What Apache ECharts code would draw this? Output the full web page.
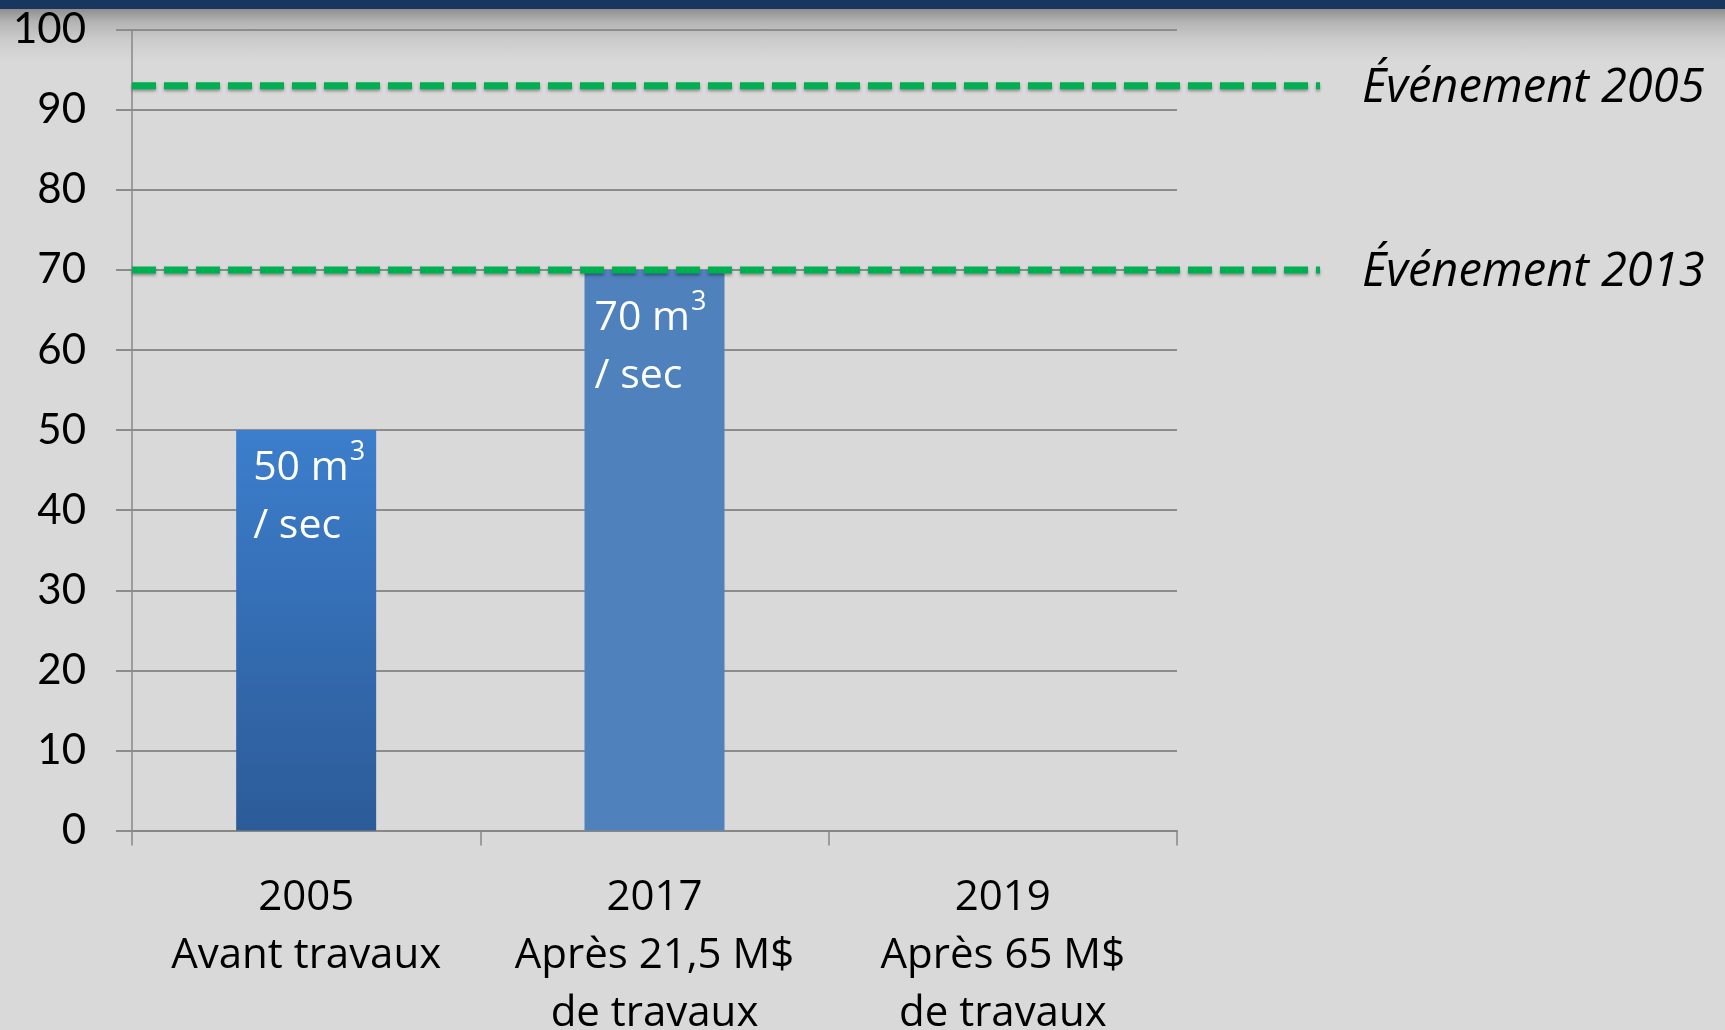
<!DOCTYPE html>
<html>
<head>
<meta charset="utf-8">
<script src="https://cdn.jsdelivr.net/npm/echarts@6/dist/echarts.min.js"></script>
<style>
  html, body { margin: 0; padding: 0; }
  body {
    width: 1725px; height: 1030px; overflow: hidden;
    background: linear-gradient(to bottom, #17375E 0px, #17375E 9px, #8f8f8f 9px, #b4b4b4 22px, #cccccc 40px, #d9d9d9 62px, #d9d9d9 100%);
  }
  #chart { width: 1725px; height: 1030px; }
</style>
</head>
<body>
<div id="chart"></div>
<script>
// ---- data ----
const categories = ['2005\nAvant travaux', '2017\nAprès 21,5 M$\nde travaux', '2019\nAprès 65 M$\nde travaux'];
const flowValues = [50, 70, null];
const eventNames = ['Événement 2005', 'Événement 2013'];
const eventValues = [93, 70];
const yTicks = [0, 10, 20, 30, 40, 50, 60, 70, 80, 90, 100];

const NUMFONT = 'Lato, "Open Sans", sans-serif';
const FONT = '"Open Sans", Lato, sans-serif';
const chart = echarts.init(document.getElementById('chart'), null, { renderer: 'canvas' });

const barColors = [
  new echarts.graphic.LinearGradient(0, 0, 0, 1, [
    { offset: 0, color: '#3C7ECC' },
    { offset: 1, color: '#2C5B98' }
  ]),
  '#4F81BD',
  '#4F81BD'
];
const labelPads = [[9, 0, 0, 17], [19, 0, 0, 10], [0, 0, 0, 0]];

const gridTop = 29.7, gridBottom = 199.5;

const option = {
  backgroundColor: 'transparent',
  animation: false,
  grid: [
    { left: 132, right: 548, top: gridTop, bottom: gridBottom, containLabel: false, outerBoundsMode: 'none' },
    { left: 132, right: 405, top: gridTop, bottom: gridBottom, containLabel: false, outerBoundsMode: 'none' }
  ],
  xAxis: [
    {
      type: 'category', gridIndex: 0, data: categories,
      axisLine: { show: true, lineStyle: { color: '#878787', width: 2 } },
      axisTick: { show: true, length: 15, alignWithLabel: false, lineStyle: { color: '#878787', width: 1.5 } },
      axisLabel: { color: '#000', fontFamily: FONT, fontSize: 42, lineHeight: 58, margin: 38.5, interval: 0 }
    },
    { type: 'value', gridIndex: 1, min: 0, max: 1, show: false }
  ],
  yAxis: [
    {
      type: 'value', gridIndex: 0, min: yTicks[0], max: yTicks[yTicks.length - 1], interval: 10,
      axisLine: { show: true, lineStyle: { color: '#878787', width: 1.5 } },
      axisTick: { show: true, length: 16, lineStyle: { color: '#8C8C8C', width: 2 } },
      splitLine: { show: true, lineStyle: { color: '#8C8C8C', width: 2 } },
      axisLabel: { color: '#000', fontFamily: NUMFONT, fontSize: 42, margin: 46 }
    },
    { type: 'value', gridIndex: 1, min: 0, max: 100, show: false }
  ],
  series: [
    {
      type: 'bar', xAxisIndex: 0, yAxisIndex: 0, barWidth: 140,
      data: flowValues.map((v, i) => ({
        value: v,
        itemStyle: { color: barColors[i] },
        label: { padding: labelPads[i] }
      })),
      label: {
        show: true, position: 'insideTopLeft', distance: 0,
        color: '#fff', fontFamily: FONT, fontSize: 41, lineHeight: 58,
        formatter: p => p.value == null ? '' : '{a|' + p.value + ' m}{s|3}\n{a|/ sec}',
        rich: {
          a: { color: '#fff', fontFamily: FONT, fontSize: 41, lineHeight: 58 },
          s: { color: '#fff', fontFamily: FONT, fontSize: 27, lineHeight: 36, verticalAlign: 'top', padding: [0, 0, 0, 1] }
        }
      }
    },
    ...eventValues.map((v, i) => ({
      type: 'line', xAxisIndex: 1, yAxisIndex: 1, z: 5,
      data: [[0, v], [1, v]],
      symbol: 'none',
      lineStyle: {
        color: '#00B050', width: 7, type: [24, 8],
        shadowColor: 'rgba(0,0,0,0.35)', shadowBlur: 3, shadowOffsetY: 2
      },
      endLabel: {
        show: true, distance: 42, formatter: eventNames[i], offset: [0, 3],
        color: '#000', fontFamily: FONT, fontStyle: 'italic', fontSize: 47
      }
    }))
  ]
};
chart.setOption(option);
</script>
</body>
</html>
